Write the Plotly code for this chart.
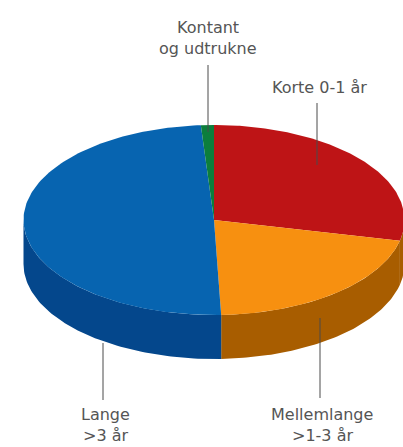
import numpy as np
import plotly.graph_objects as go

categories = ["Korte 0-1 år", "Mellemlange >1-3 år", "Lange >3 år", "Kontant og udtrukne"]
values = [28.5, 20.9, 49.5, 1.1]

top_colors = ["#BE1416", "#F79010", "#0764B0", "#0C7E3C"]
side_colors = ["#A85D00", "#A85D00", "#04478C", "#085A2B"]

CX, CY, A, B, DEPTH = 214, 220, 190.5, 95, 44


def rim(theta_deg):
    t = np.radians(theta_deg)
    return CX + A * np.sin(t), CY - B * np.cos(t)


fig = go.Figure()
edges = np.concatenate([[0], np.cumsum(values)]) / sum(values) * 360

# Side walls (only the front half, theta between 90 and 270, is visible)
for i in range(len(values)):
    lo, hi = max(edges[i], 90), min(edges[i + 1], 270)
    if hi <= lo:
        continue
    th = np.linspace(lo, hi, 80)
    x, y = rim(th)
    fig.add_trace(go.Scatter(
        x=np.concatenate([x, x[::-1]]),
        y=np.concatenate([y, y[::-1] + DEPTH]),
        mode="lines", fill="toself", fillcolor=side_colors[i],
        line=dict(width=0), hoverinfo="skip", showlegend=False,
    ))

# Top faces
for i, name in enumerate(categories):
    th = np.linspace(edges[i], edges[i + 1], 160)
    x, y = rim(th)
    fig.add_trace(go.Scatter(
        x=np.concatenate([[CX], x, [CX]]),
        y=np.concatenate([[CY], y, [CY]]),
        mode="lines", fill="toself", fillcolor=top_colors[i],
        line=dict(width=0), name=name, hoverinfo="name", showlegend=False,
    ))

leaders = [(208, 65, 132), (317, 103, 165), (320, 318, 398), (103, 343, 400)]
for lx, y0, y1 in leaders:
    fig.add_shape(type="line", x0=lx, x1=lx, y0=y0, y1=y1,
                  line=dict(color="#4a4a4a", width=1))

labels = [("Kontant", 208, 27), ("og udtrukne", 208, 48), ("Korte 0-1 år", 319, 87),
          ("Mellemlange", 322, 414), (">1-3 år", 322, 435), ("Lange", 105, 414), (">3 år", 105, 435)]
for text, lx, ly in labels:
    fig.add_annotation(x=lx, y=ly, text=text, showarrow=False, xanchor="center", yanchor="middle",
                       font=dict(family="DejaVu Sans", size=16, color="#555555"))

fig.update_layout(
    width=403, height=447, margin=dict(l=0, r=0, t=0, b=0),
    paper_bgcolor="white", plot_bgcolor="white",
    xaxis=dict(range=[0, 403], visible=False, fixedrange=True),
    yaxis=dict(range=[447, 0], visible=False, fixedrange=True),
)
fig.write_html("out.html", config={"displayModeBar": False},
               post_script="document.body.style.margin='0';document.body.style.overflow='hidden';")
